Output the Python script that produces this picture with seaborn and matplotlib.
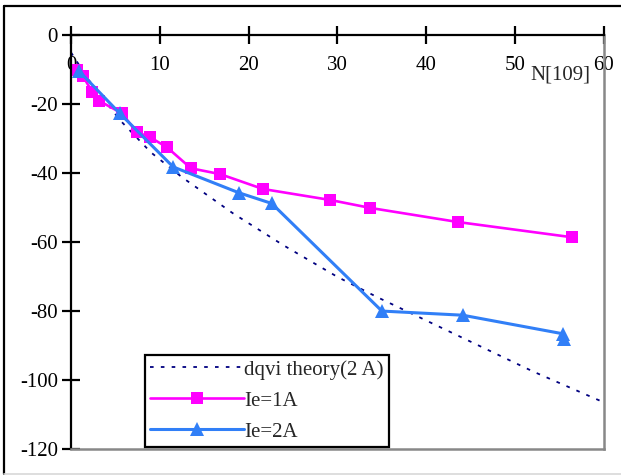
import numpy as np
import pandas as pd
import seaborn as sns
import matplotlib.pyplot as plt
from matplotlib.lines import Line2D

# theory curve
theory_n = [0, 2, 5.5, 9, 12.5, 18.2, 23.9, 30, 34.5, 44.6, 52, 60]
theory_v = [-5, -13, -24.6, -34, -41.2, -51.6, -60.9, -70.1, -76, -88.4, -97.5, -106.5]

# Ie = 1A
ie1_n = [0.7, 1.35, 2.4, 3.2, 5.7, 7.4, 8.9, 10.8, 13.5, 16.8, 21.6, 29.2, 33.7, 43.6, 56.4]
ie1_v = [-10.1, -11.9, -16.5, -19.1, -22.6, -28.1, -29.6, -32.5, -38.6, -40.3, -44.6, -47.8, -50.1, -54.2, -58.6]

# Ie = 2A
ie2_n = [0.9, 5.5, 11.5, 18.9, 22.6, 35.0, 44.1, 55.4, 55.5]
ie2_v = [-10.4, -22.7, -38.2, -45.7, -48.8, -80.0, -81.2, -86.6, -88.2]

sns.set_style('white')
plt.rcParams['font.family'] = ['Liberation Serif', 'DejaVu Serif']
plt.rcParams['axes.unicode_minus'] = False
fs = 15

fig = plt.figure(figsize=(6.21, 4.75), dpi=100)
ax = fig.add_axes([0.1143, 0.0547, 0.8583, 0.8713])

ax.plot(theory_n, theory_v, color='#000080', linestyle=(0, (2, 4)), linewidth=1.3,
        label='dqvi theory(2 A)')
sns.lineplot(x=ie1_n, y=ie1_v, ax=ax, color='#ff00ff', marker='s', markersize=9,
             markeredgewidth=0, linewidth=1.9, sort=False, estimator=None, label='Ie=1A')
sns.lineplot(x=ie2_n, y=ie2_v, ax=ax, color='#317ff7', marker='^', markersize=10,
             markeredgewidth=0, linewidth=2.2, sort=False, estimator=None, label='Ie=2A')

ax.set_xlim(0, 60)
ax.set_ylim(-120, 0)
ax.set_xticks(range(0, 61, 10))
ax.set_yticks(range(-120, 1, 20))

# x axis runs along y=0, grey frame at the bottom and right
ax.spines['bottom'].set_position(('data', 0))
ax.spines['top'].set_position(('data', -120))
for s in ['bottom', 'left']:
    ax.spines[s].set_color('black')
    ax.spines[s].set_linewidth(1.6)
for s in ['top', 'right']:
    ax.spines[s].set_color('#888888')
    ax.spines[s].set_linewidth(1.8)
ax.tick_params(axis='x', bottom=True, top=False, direction='inout', length=12.5, width=1.6,
               pad=9, labelsize=fs, colors='black')
ax.tick_params(axis='y', left=True, right=False, direction='inout', length=13, width=1.6,
               pad=3, labelsize=fs, colors='black')

ax.set_xlabel('N[109]', fontsize=fs)
ax.xaxis.set_label_coords(0.919, 0.927)
ax.set_ylabel('')

leg = ax.legend(loc='lower left', bbox_to_anchor=(0.139, 0.005), borderaxespad=0,
                handlelength=4.5, handletextpad=0.0, labelspacing=0.55, borderpad=0.25,
                fancybox=False, framealpha=1, edgecolor='black', fontsize=fs)
leg.get_frame().set_linewidth(1.6)

# outer frame of the picture
fig.add_artist(Line2D([0.007, 1.0], [0.987, 0.987], color='black', linewidth=1.6))
fig.add_artist(Line2D([0.007, 0.007], [0.987, 0.003], color='black', linewidth=1.6))
fig.add_artist(Line2D([0.007, 1.0], [0.003, 0.003], color='#d8d8d8', linewidth=1.2))

fig.savefig('out.png', dpi=100)
